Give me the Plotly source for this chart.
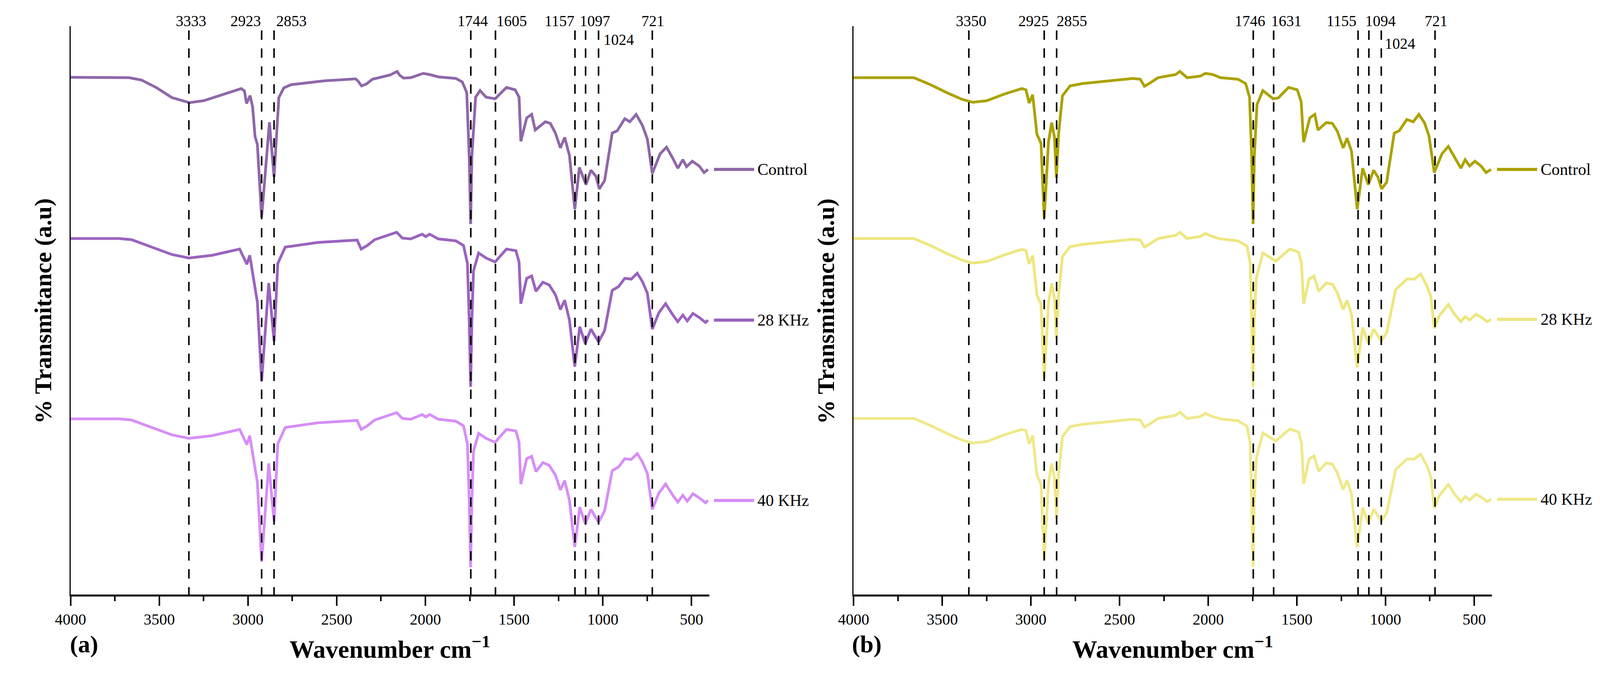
import plotly.graph_objects as go

# ---------------- data (arbitrary transmittance units) ----------------
SERIES_NAMES = ["Control", "28 KHz", "40 KHz"]
X_TICKS = [4000, 3500, 3000, 2500, 2000, 1500, 1000, 500]

PEAKS_A = [3333, 2923, 2853, 1744, 1605, 1157, 1097, 1024, 721]
PEAKS_B = [3350, 2925, 2855, 1746, 1631, 1155, 1094, 1024, 721]

# panel (a) control
WN_A_CTRL = [4000, 3670, 3600, 3514, 3429, 3330, 3250, 3176, 3100, 3038, 3020, 3008, 2988, 2974,
             2960, 2947, 2923, 2899, 2879, 2853, 2838, 2826, 2798, 2757, 2569, 2393, 2381, 2360,
             2332, 2299, 2198, 2160, 2144, 2123, 2083, 2012, 1976, 1927, 1828, 1792, 1767, 1753,
             1745, 1738, 1717, 1692, 1658, 1607, 1543, 1494, 1472, 1462, 1429, 1401, 1381, 1324,
             1296, 1267, 1239, 1215, 1188, 1158, 1132, 1095, 1067, 1038, 1020, 990, 947, 919, 876,
             848, 812, 777, 749, 721, 677, 641, 605, 577, 549, 528, 496, 457, 429, 407]
T_A_CTRL = [1325, 1324, 1318, 1298, 1273, 1260, 1265, 1276, 1288, 1296, 1290, 1258, 1278, 1250,
            1173, 1153, 966, 1106, 1210, 1070, 1200, 1273, 1298, 1306, 1316, 1321, 1316, 1303,
            1308, 1320, 1331, 1340, 1330, 1323, 1324, 1335, 1332, 1326, 1322, 1313, 1286, 1123,
            949, 1123, 1274, 1291, 1274, 1270, 1299, 1293, 1274, 1161, 1221, 1230, 1190, 1211,
            1207, 1182, 1144, 1171, 1125, 987, 1094, 1050, 1087, 1071, 1039, 1060, 1182, 1188, 1219,
            1211, 1230, 1202, 1167, 1079, 1129, 1146, 1117, 1092, 1114, 1096, 1110, 1098, 1081, 1089]

# panel (a) 28 KHz and 40 KHz
WN_A_KHZ = [4000, 3727, 3656, 3514, 3429, 3333, 3202, 3047, 3006, 2990, 2968, 2947, 2923, 2883,
            2853, 2832, 2790, 2605, 2385, 2362, 2328, 2286, 2162, 2130, 2083, 2018, 1998, 1976,
            1927, 1828, 1785, 1763, 1753, 1745, 1738, 1729, 1700, 1658, 1607, 1543, 1490, 1472,
            1462, 1429, 1401, 1377, 1338, 1302, 1267, 1239, 1215, 1188, 1158, 1130, 1099, 1067,
            1024, 990, 947, 911, 876, 840, 806, 777, 749, 721, 684, 646, 605, 577, 549, 524, 492,
            457, 421, 407]
T_A_28 = [912, 912, 909, 886, 871, 862, 869, 885, 846, 869, 810, 749, 546, 798,
          649, 848, 890, 902, 908, 885, 894, 909, 928, 913, 911, 923, 917, 923,
          911, 906, 894, 848, 703, 532, 703, 829, 875, 862, 852, 885, 881, 852,
          745, 810, 816, 777, 800, 793, 768, 730, 754, 703, 584, 686, 643, 680,
          647, 676, 779, 789, 810, 808, 823, 802, 772, 680, 722, 745, 716, 699, 716, 701, 720,
          710, 697, 703]
T_A_40 = [450, 450, 447, 424, 409, 400, 407, 423, 384, 407, 348, 287, 84, 336,
          187, 386, 428, 440, 446, 423, 432, 447, 466, 451, 449, 461, 455, 461,
          449, 444, 432, 386, 241, 70, 241, 367, 413, 400, 390, 423, 419, 390,
          283, 348, 354, 315, 338, 331, 306, 268, 292, 241, 122, 224, 181, 218,
          185, 214, 317, 327, 348, 346, 361, 340, 310, 218, 260, 283, 254, 237, 254, 239, 258,
          248, 235, 241]

# panel (b) control
WN_B_CTRL = [4000, 3660, 3561, 3476, 3391, 3328, 3249, 3150, 3051, 3028, 3010, 2990, 2966, 2943,
             2925, 2901, 2883, 2867, 2856, 2844, 2822, 2779, 2708, 2425, 2383, 2360, 2326, 2283,
             2184, 2160, 2119, 2045, 2016, 1974, 1931, 1832, 1789, 1767, 1755, 1747, 1740, 1725,
             1692, 1634, 1605, 1547, 1498, 1476, 1462, 1427, 1399, 1381, 1334, 1300, 1271, 1239,
             1217, 1192, 1160, 1129, 1097, 1067, 1043, 1022, 994, 951, 923, 880, 844, 812, 781,
             755, 725, 682, 646, 607, 575, 551, 526, 496, 462, 433, 405]
T_B_CTRL = [1324, 1324, 1305, 1286, 1269, 1261, 1265, 1282, 1296, 1293, 1259, 1280, 1179, 1156,
            964, 1159, 1209, 1171, 1068, 1179, 1278, 1303, 1309, 1322, 1320, 1302, 1311, 1324,
            1332, 1340, 1324, 1328, 1335, 1332, 1324, 1320, 1309, 1274, 1123, 949, 1123, 1255,
            1291, 1270, 1272, 1299, 1293, 1263, 1159, 1221, 1230, 1190, 1209, 1207, 1186, 1144,
            1169, 1136, 987, 1092, 1050, 1087, 1069, 1039, 1056, 1182, 1188, 1217, 1211, 1230, 1209,
            1175, 1081, 1129, 1148, 1117, 1092, 1114, 1098, 1110, 1098, 1081, 1089]

# panel (b) 28 KHz and 40 KHz
WN_B_KHZ = [4000, 3660, 3561, 3476, 3391, 3328, 3249, 3150, 3051, 3028, 3010, 2990, 2966, 2943,
            2925, 2901, 2883, 2867, 2856, 2844, 2822, 2779, 2708, 2425, 2383, 2360, 2326, 2283,
            2184, 2160, 2119, 2045, 2016, 1988, 1931, 1832, 1781, 1763, 1755, 1747, 1740, 1729,
            1692, 1619, 1540, 1490, 1474, 1462, 1431, 1403, 1377, 1334, 1300, 1271, 1239, 1217,
            1192, 1160, 1129, 1097, 1067, 1043, 1024, 994, 943, 880, 838, 802, 767, 745, 725, 697,
            646, 611, 575, 551, 526, 490, 456, 427, 405]
T_B_28 = [912, 912, 893, 874, 857, 849, 853, 870, 884, 881, 847, 868, 767, 744,
          552, 747, 797, 759, 656, 767, 866, 891, 897, 910, 908, 890, 899, 912,
          920, 928, 912, 917, 925, 919, 911, 906, 892, 848, 703, 532, 703, 810,
          875, 854, 885, 877, 848, 745, 808, 816, 777, 798, 795, 772, 730, 754,
          718, 582, 684, 643, 680, 664, 649, 670, 781, 808, 808, 821, 791, 764, 682, 714,
          743, 718, 699, 712, 703, 718, 709, 699, 705]
T_B_40 = [451, 451, 432, 413, 396, 388, 392, 409, 423, 420, 386, 407, 306, 283,
          91, 286, 336, 298, 195, 306, 405, 430, 436, 449, 447, 429, 438, 451,
          459, 467, 451, 456, 464, 458, 450, 445, 431, 387, 242, 71, 242, 349,
          414, 393, 424, 416, 387, 284, 347, 355, 316, 337, 334, 311, 269, 293,
          257, 121, 223, 182, 219, 203, 188, 209, 320, 347, 347, 360, 330, 303, 221, 253,
          282, 257, 238, 251, 242, 257, 248, 238, 244]

# ---------------- styles / layout ----------------
W, H = 4413, 1724
FONT = "Liberation Serif"
V_TOP = 1456          # top of the y range (a.u.)
DASH_TOP = 1445       # where the marker lines start
COLORS_A = ["#8E67A8", "#9A63BE", "#D68EF6"]
COLORS_B = ["#ABA200", "#EEE67F", "#EFE88A"]


def px_x(p):
    return p / W


def px_y(p):
    return 1 - p / H


YDOM = [px_y(1523), px_y(67)]
XDOM_A = [px_x(153), px_x(1932)]
XDOM_B = [px_x(2334), px_x(4112)]

# label centre positions (wavenumber) and row (0 = top, 1 = lower) for the peak labels
LABEL_X_A = [3320, 3012, 2755, 1733, 1514, 1243, 1045, 911, 717]
LABEL_X_B = [3338, 2985, 2768, 1765, 1559, 1247, 1028, 919, 715]
LABEL_ROW_A = [0, 0, 0, 0, 0, 0, 0, 1, 0]
LABEL_ROW_B = [0, 0, 0, 0, 0, 0, 0, 1, 0]

fig = go.Figure()
annotations = []
shapes = []


def val_to_paper(v):
    return YDOM[0] + v / V_TOP * (YDOM[1] - YDOM[0])


def panel(xa, ya, x_off_px, series, colors, peaks, label_x, label_rows, row2_px, letter):
    # spectra
    for (wn, t), name, col in zip(series, SERIES_NAMES, colors):
        fig.add_trace(go.Scatter(x=wn, y=t, mode="lines", name=name, xaxis=xa, yaxis=ya,
                                 line=dict(color=col, width=7), showlegend=False,
                                 hoverinfo="skip"))
        yp = val_to_paper(t[-1])
        shapes.append(dict(type="line", xref="paper", yref="paper",
                           x0=px_x(1945 + x_off_px), x1=px_x(2057 + x_off_px), y0=yp, y1=yp,
                           line=dict(color=col, width=8)))
        annotations.append(dict(text=name, xref="paper", yref="paper",
                                x=px_x(2064 + x_off_px), y=yp, xanchor="left", yanchor="middle",
                                showarrow=False, font=dict(family=FONT, size=42, color="black")))
    # peak marker lines
    for p in peaks:
        fig.add_trace(go.Scatter(x=[p, p], y=[DASH_TOP, 0], mode="lines", xaxis=xa, yaxis=ya,
                                 line=dict(color="black", width=4, dash="24px,22px"),
                                 showlegend=False, hoverinfo="skip"))
    for p, lx, r in zip(peaks, label_x, label_rows):
        annotations.append(dict(text=str(p), xref=xa, yref="paper", x=lx,
                                y=px_y(54 if r == 0 else row2_px),
                                xanchor="center", yanchor="middle", showarrow=False,
                                font=dict(family=FONT, size=39, color="black")))
    # titles
    annotations.append(dict(text="<b>Wavenumber cm<sup>\u22121</sup></b>", xref="paper",
                            yref="paper", x=px_x(1042 + x_off_px), y=px_y(1658),
                            xanchor="center", yanchor="middle", showarrow=False,
                            font=dict(family=FONT, size=64, color="black")))
    annotations.append(dict(text="<b>% Transmitance (a.u)</b>", xref="paper", yref="paper",
                            x=px_x(76 + x_off_px), y=px_y(797), textangle=-90,
                            xanchor="center", yanchor="middle", showarrow=False,
                            font=dict(family=FONT, size=62, color="black")))
    annotations.append(dict(text="<b>" + letter + "</b>", xref="paper", yref="paper",
                            x=px_x(190 + x_off_px), y=px_y(1650),
                            xanchor="center", yanchor="middle", showarrow=False,
                            font=dict(family=FONT, size=62, color="black")))


panel("x", "y", 0,
      [(WN_A_CTRL, T_A_CTRL), (WN_A_KHZ, T_A_28), (WN_A_KHZ, T_A_40)],
      COLORS_A, PEAKS_A, LABEL_X_A, LABEL_ROW_A, 101, "(a)")
panel("x2", "y2", 2181,
      [(WN_B_CTRL, T_B_CTRL), (WN_B_KHZ, T_B_28), (WN_B_KHZ, T_B_40)],
      COLORS_B, PEAKS_B, LABEL_X_B, LABEL_ROW_B, 111, "(b)")

xaxis_common = dict(range=[4000, 400], tickmode="array", tickvals=X_TICKS,
                    ticktext=[str(v) for v in X_TICKS],
                    showline=True, linecolor="black", linewidth=5, mirror=False,
                    ticks="outside", ticklen=24, tickwidth=4, tickcolor="black",
                    minor=dict(tickmode="linear", tick0=250, dtick=500, ticks="outside",
                               ticklen=12, tickwidth=4, tickcolor="black"),
                    tickfont=dict(family=FONT, size=40, color="black"),
                    showgrid=False, zeroline=False, fixedrange=True)
yaxis_common = dict(range=[0, V_TOP], domain=YDOM, showline=True, linecolor="black",
                    linewidth=3, ticks="", showticklabels=False, showgrid=False,
                    zeroline=False, fixedrange=True)

fig.update_layout(
    width=W, height=H, autosize=False,
    margin=dict(l=0, r=0, t=0, b=0, pad=0),
    paper_bgcolor="white", plot_bgcolor="white",
    showlegend=False,
    xaxis=dict(domain=XDOM_A, anchor="y", **xaxis_common),
    yaxis=dict(anchor="x", **yaxis_common),
    xaxis2=dict(domain=XDOM_B, anchor="y2", **xaxis_common),
    yaxis2=dict(anchor="x2", **yaxis_common),
    annotations=annotations,
    shapes=shapes,
)

# fit the figure to the actual visible page size (the whole chart stays in view)
POST = ("document.body.style.margin='0';document.body.style.overflow='hidden';"
        "var gd=document.getElementById('{plot_id}');"
        "Plotly.relayout(gd,{width:window.innerWidth,height:window.innerHeight});")

fig.write_html("out.html", post_script=POST, config={"displayModeBar": False})
